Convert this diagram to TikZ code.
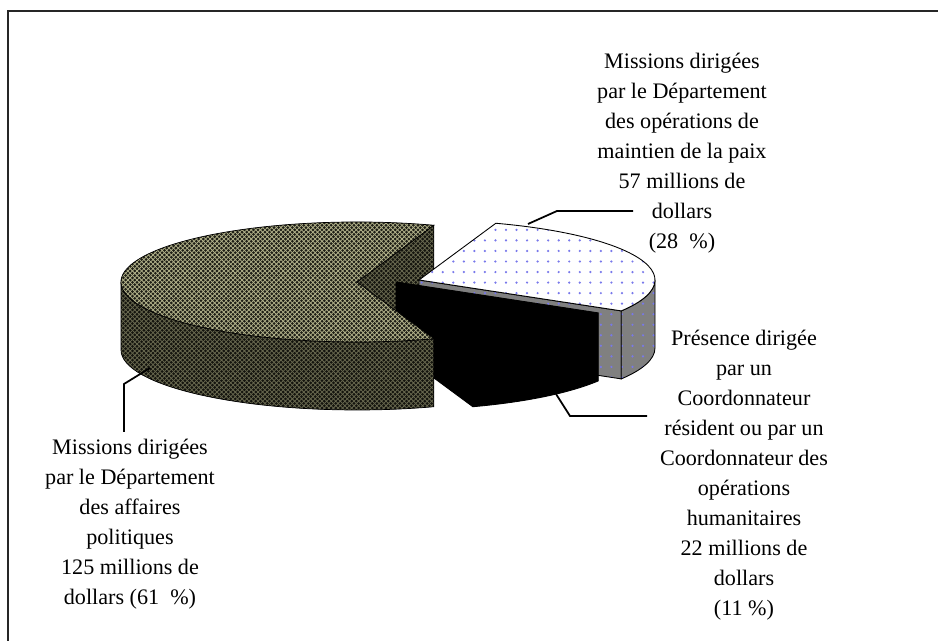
\documentclass[tikz,border=0pt]{standalone}
\usepackage{fontspec}
\setmainfont{Liberation Serif}
\usetikzlibrary{patterns}
\definecolor{olivedark}{RGB}{30,30,22}
\definecolor{olivelight}{RGB}{180,180,140}
\definecolor{olivedeep}{RGB}{20,20,14}
\definecolor{olivemid}{RGB}{105,105,80}
\definecolor{dotblue}{RGB}{120,120,235}
\definecolor{slicegray}{RGB}{128,128,128}
\pgfdeclarepatternformonly{weave}{\pgfpoint{-0.3pt}{-0.3pt}}{\pgfpoint{2.9pt}{2.9pt}}{\pgfpoint{2.6pt}{2.6pt}}{%
  \pgfsetlinewidth{0.42pt}%
  \pgfpathmoveto{\pgfpoint{0pt}{0pt}}\pgfpathlineto{\pgfpoint{2.6pt}{2.6pt}}%
  \pgfpathmoveto{\pgfpoint{0pt}{2.6pt}}\pgfpathlineto{\pgfpoint{2.6pt}{0pt}}%
  \pgfusepath{stroke}}
\pgfdeclarepatternformonly{bluedots}{\pgfpoint{-1pt}{-1pt}}{\pgfpoint{1pt}{1pt}}{\pgfpoint{6pt}{6pt}}{%
  \pgfpathcircle{\pgfpointorigin}{0.7pt}\pgfusepath{fill}}
\begin{document}
\begin{tikzpicture}[x=0.02cm, y=0.02cm,
    bigtop/.style={draw=black, line width=0.4pt, preaction={fill=olivedark}, pattern=weave, pattern color=olivelight},
    bigside/.style={draw=black, line width=0.4pt, preaction={fill=olivedeep}, pattern=weave, pattern color=olivemid},
    peacetop/.style={draw=black, line width=0.5pt, preaction={fill=white}, pattern=bluedots, pattern color=dotblue},
    peaceside/.style={draw=black, line width=0.5pt, preaction={fill=slicegray}, pattern=bluedots, pattern color=dotblue},
    coordbody/.style={draw=black, fill=black, line width=0.5pt},
    leader/.style={line width=1pt},
    slicelabel/.style={align=center, inner sep=0pt, font=\fontsize{12.6}{17.1}\selectfont}]
  \useasboundingbox (0,0) rectangle (938,641);
  \draw [line width=1.1pt, black!85] (8,0) -- (8,630) -- (938,630);
  \def\rx{236}
  \def\ry{60}
  \def\h{68}
  % back face of the big slice
  \begin{scope}[shift={(357,359)}]
    \draw [bigside] (0,0) -- (71:236 and 60) -- ++(0,-\h) -- (0,-\h) -- cycle;
  \end{scope}
  % peacekeeping slice
  \begin{scope}[shift={(419,361)}]
    \draw [peaceside] (0,0) -- (-31:236 and 60) -- ++(0,-\h) -- (0,-\h) -- cycle;
    \draw [peaceside] (-31:236 and 60) arc[start angle=-31, end angle=0, x radius=\rx, y radius=\ry]
      -- ++(0,-\h) arc[start angle=0, end angle=-31, x radius=\rx, y radius=\ry] -- cycle;
    \draw [peacetop] (0,0) -- (-31:236 and 60) arc[start angle=-31, end angle=71, x radius=\rx, y radius=\ry] -- cycle;
  \end{scope}
  % coordinator slice
  \begin{scope}[shift={(396,359)}]
    \draw [coordbody] (0,0) -- (-31:236 and 60) -- ++(0,-\h)
      arc[start angle=-31, end angle=-71, x radius=\rx, y radius=\ry] -- (0,-\h) -- cycle;
  \end{scope}
  % front of the big slice
  \begin{scope}[shift={(357,359)}]
    \draw [bigside] (180:236 and 60) arc[start angle=180, end angle=289, x radius=\rx, y radius=\ry]
      -- ++(0,-\h) arc[start angle=289, end angle=180, x radius=\rx, y radius=\ry] -- cycle;
    \draw [bigtop] (0,0) -- (71:236 and 60) arc[start angle=71, end angle=289, x radius=\rx, y radius=\ry] -- cycle;
  \end{scope}
  % labels
  \node [slicelabel] (biglab) at (130,117) {Missions dirigées\\par le Département\\des affaires\\politiques\\125 millions de\\dollars (61~ \%)};
  \node [slicelabel] (peacelab) at (682,488) {Missions dirigées\\par le Département\\des opérations de\\maintien de la paix\\57 millions de\\dollars\\(28~ \%)};
  \node [slicelabel] (coordlab) at (744,166) {Présence dirigée\\par un\\Coordonnateur\\résident ou par un\\Coordonnateur des\\opérations\\humanitaires\\22 millions de\\dollars\\(11 \%)};
  \coordinate (bigpin) at (150,273);
  \coordinate (bigknee) at (124,257);
  \coordinate (bigfoot) at (124,209);
  \coordinate (peacepin) at (528,417);
  \coordinate (peaceknee) at (557,430);
  \coordinate (peacefoot) at (633,430);
  \coordinate (coordpin) at (556,247);
  \coordinate (coordknee) at (570,225);
  \coordinate (coordfoot) at (647,225);
  \draw [leader] (bigpin) -- (bigknee) -- (bigfoot);
  \draw [leader] (peacepin) -- (peaceknee) -- (peacefoot);
  \draw [leader] (coordpin) -- (coordknee) -- (coordfoot);
\end{tikzpicture}
\end{document}
